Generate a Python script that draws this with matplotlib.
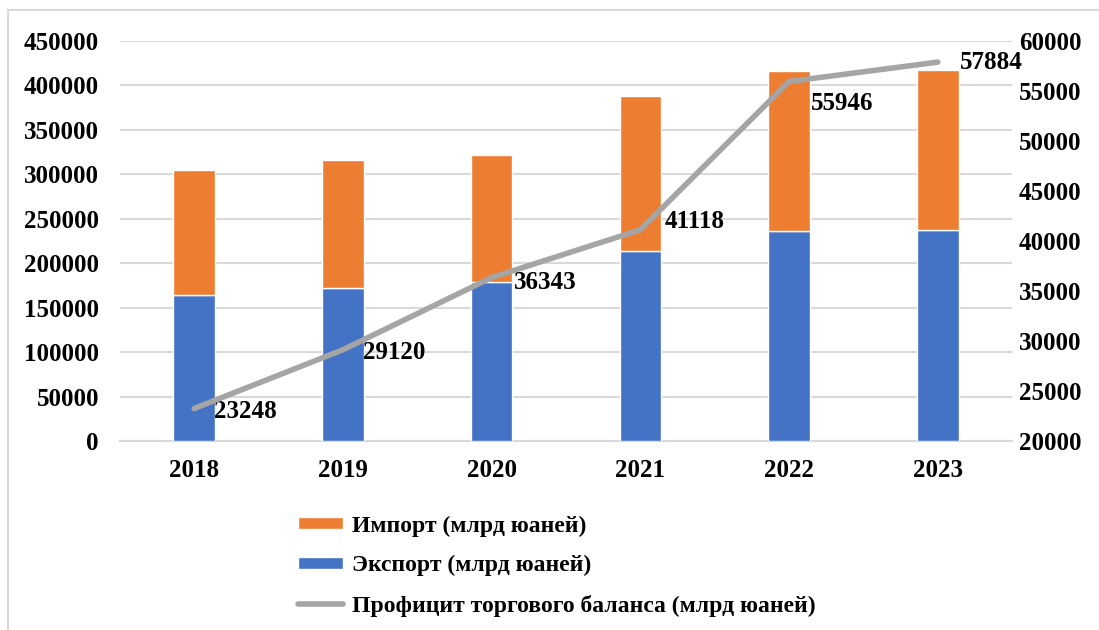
import matplotlib.pyplot as plt
from matplotlib.patches import Rectangle

plt.rcParams['font.family'] = ['Liberation Serif', 'DejaVu Serif']
plt.rcParams['font.weight'] = 'bold'

years = ['2018', '2019', '2020', '2021', '2022', '2023']
export = [164177, 172298, 179326, 214255, 236500, 237726]
imports = [140874, 143254, 142936, 173661, 179500, 179842]
surplus = [23248, 29120, 36343, 41118, 55946, 57884]
surplus_labels = ['23248', '29120', '36343', '41118', '55946', '57884']

c_exp = '#4472C4'
c_imp = '#ED7D31'
c_line = '#A5A5A5'
fs = 18

fig = plt.figure(figsize=(10.99, 6.3), dpi=100)
ax = fig.add_axes([0.109, 0.30, 0.812, 0.635])
ax2 = ax.twinx()

x = range(len(years))
b_exp = ax.bar(x, export, width=0.28, color=c_exp, edgecolor='white', linewidth=1, zorder=3,
               label='Экспорт (млрд юаней)')
b_imp = ax.bar(x, imports, width=0.28, bottom=export, color=c_imp, edgecolor='white', linewidth=1,
               zorder=3, label='Импорт (млрд юаней)')
ln, = ax2.plot(x, surplus, color=c_line, linewidth=4, solid_capstyle='round', zorder=4,
               label='Профицит торгового баланса (млрд юаней)')

# data labels to the right of the points
offsets = [(20, -3), (20, -3), (22, -5), (24, 8), (22, -22), (22, 0)]
for i, (v, lab) in enumerate(zip(surplus, surplus_labels)):
    ax2.annotate(lab, (i, v), xytext=offsets[i], textcoords='offset pixels',
                 ha='left', va='center', fontsize=fs, fontweight='bold', color='black')

ax.set_xlim(-0.5, 5.5)
ax.set_ylim(0, 450000)
ax.set_yticks(range(0, 450001, 50000))
ax2.set_ylim(20000, 60000)
ax2.set_yticks(range(20000, 60001, 5000))

ax.grid(axis='y', color='#D9D9D9', linewidth=1.5, zorder=0)
ax.set_axisbelow(True)
for a in (ax, ax2):
    for s in a.spines.values():
        s.set_visible(False)
ax.spines['bottom'].set_visible(True)
ax.spines['bottom'].set_color('#D9D9D9')
ax.spines['bottom'].set_linewidth(1.5)

ax.set_xticks(list(x))
ax.set_xticklabels(years)
ax.tick_params(axis='x', length=0, labelsize=fs, pad=13)
ax.tick_params(axis='y', length=0, labelsize=fs, pad=15)
ax2.tick_params(axis='y', length=0, labelsize=fs, pad=5)
for lab in ax.get_xticklabels() + ax.get_yticklabels() + ax2.get_yticklabels():
    lab.set_fontweight('bold')

fig.legend([b_imp, b_exp, ln],
           ['Импорт (млрд юаней)', 'Экспорт (млрд юаней)', 'Профицит торгового баланса (млрд юаней)'],
           loc='center left', bbox_to_anchor=(0.271, 0.1016), frameon=False,
           handlelength=1.9, handleheight=0.4, handletextpad=0.4,
           labelspacing=0.78, borderpad=0, borderaxespad=0,
           prop={'weight': 'bold', 'size': 17})

# outer chart frame
fig.patches.append(Rectangle((8 / 1099, -0.05), 1.1, 1 - 10 / 630 + 0.05,
                             transform=fig.transFigure, fill=False,
                             edgecolor='#D9D9D9', linewidth=1.5))

fig.savefig('out.png', dpi=100)
